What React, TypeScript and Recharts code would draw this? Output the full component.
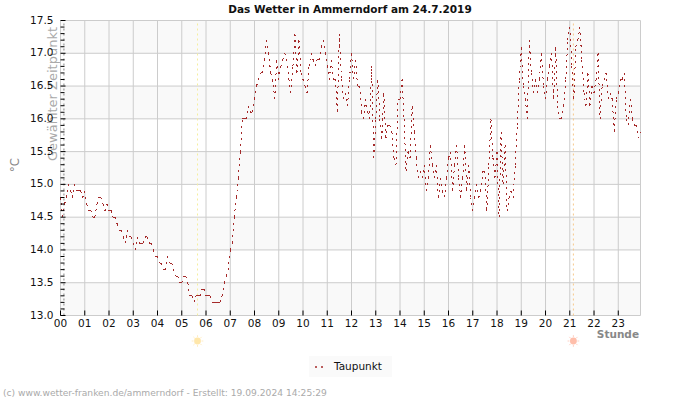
import React from "react";
import {
  CartesianGrid,
  Line,
  LineChart,
  ReferenceLine,
  XAxis,
  YAxis,
} from "recharts";

// Dew point in °C, one reading every five minutes, grouped by hour of the day.
const hour00 = [14.8, 14.5, 14.7, 14.8, 15.0, 14.9, 14.8, 15.0, 14.9, 14.9, 14.9, 14.8];
const hour01 = [14.9, 14.7, 14.6, 14.6, 14.5, 14.5, 14.7, 14.8, 14.8, 14.7, 14.6, 14.7];
const hour02 = [14.6, 14.6, 14.5, 14.5, 14.4, 14.3, 14.3, 14.2, 14.1, 14.3, 14.2, 14.2];
const hour03 = [14.1, 14.0, 14.2, 14.1, 14.1, 14.1, 14.2, 14.2, 14.1, 14.1, 14.0, 13.9];
const hour04 = [13.9, 13.8, 13.8, 13.7, 13.7, 13.9, 13.8, 13.8, 13.7, 13.6, 13.6, 13.5];
const hour05 = [13.5, 13.6, 13.6, 13.5, 13.3, 13.3, 13.2, 13.3, 13.3, 13.3, 13.4, 13.4];
const hour06 = [13.3, 13.3, 13.3, 13.2, 13.2, 13.2, 13.2, 13.2, 13.3, 13.5, 13.6, 13.7];
const hour07 = [14.0, 14.1, 14.5, 14.8, 15.1, 15.5, 16.0, 16.0, 16.0, 16.2, 16.1, 16.1];
const hour08 = [16.3, 16.5, 16.6, 16.7, 16.7, 16.9, 17.2, 17.0, 16.7, 16.6, 16.3, 16.9];
const hour09 = [16.6, 16.8, 16.9, 17.0, 16.9, 16.6, 16.4, 16.8, 17.3, 16.7, 17.2, 16.7];
const hour10 = [16.6, 16.5, 16.4, 16.8, 17.0, 16.9, 16.8, 16.9, 16.9, 17.1, 17.2, 17.0];
const hour11 = [16.8, 16.6, 16.9, 16.6, 16.6, 16.1, 17.3, 16.6, 16.3, 16.4, 16.2, 16.6];
const hour12 = [17.0, 16.6, 16.9, 16.5, 16.5, 16.1, 16.0, 16.3, 16.1, 16.0, 16.8, 15.4];
const hour13 = [16.0, 16.6, 16.0, 15.7, 16.4, 15.7, 15.9, 15.9, 15.8, 15.4, 15.3, 16.3];
const hour14 = [16.3, 16.6, 16.0, 15.2, 15.5, 15.4, 16.2, 15.8, 15.4, 15.1, 15.2, 15.1];
const hour15 = [15.3, 14.9, 15.1, 15.6, 15.3, 15.1, 15.3, 14.8, 15.1, 14.9, 14.8, 15.1];
const hour16 = [15.4, 15.5, 14.9, 15.3, 15.6, 15.1, 14.8, 15.1, 15.6, 14.9, 15.3, 14.8];
const hour17 = [14.6, 14.8, 15.0, 14.8, 14.9, 15.2, 15.2, 14.6, 15.3, 16.0, 15.4, 15.1];
const hour18 = [15.5, 14.5, 15.8, 15.0, 15.6, 14.6, 14.8, 14.9, 14.8, 15.3, 15.9, 16.6];
const hour19 = [17.1, 16.5, 16.3, 16.0, 17.2, 16.7, 16.4, 16.6, 16.4, 16.6, 17.0, 16.5];
const hour20 = [16.3, 16.6, 16.8, 17.0, 16.3, 17.1, 16.2, 16.0, 16.0, 16.2, 16.6, 17.2];
const hour21 = [17.4, 16.8, 16.3, 17.1, 17.2, 17.4, 16.9, 16.4, 16.2, 16.7, 16.2, 16.5];
const hour22 = [16.4, 16.6, 17.0, 16.0, 16.5, 16.6, 16.7, 16.3, 16.4, 16.3, 15.8, 16.3];
const hour23 = [16.4, 16.6, 16.6, 16.7, 16.0, 15.9, 16.3, 16.0, 15.9, 15.9, 15.7, 15.8];

const hours = [
  hour00, hour01, hour02, hour03, hour04, hour05, hour06, hour07,
  hour08, hour09, hour10, hour11, hour12, hour13, hour14, hour15,
  hour16, hour17, hour18, hour19, hour20, hour21, hour22, hour23,
];

const hourLabels = [
  "00", "01", "02", "03", "04", "05", "06", "07", "08", "09", "10", "11",
  "12", "13", "14", "15", "16", "17", "18", "19", "20", "21", "22", "23",
];

const majorTicks = [13, 13.5, 14, 14.5, 15, 15.5, 16, 16.5, 17, 17.5];
const allTicks = [
  13, 13.1, 13.2, 13.3, 13.4, 13.5, 13.6, 13.7, 13.8, 13.9,
  14, 14.1, 14.2, 14.3, 14.4, 14.5, 14.6, 14.7, 14.8, 14.9,
  15, 15.1, 15.2, 15.3, 15.4, 15.5, 15.6, 15.7, 15.8, 15.9,
  16, 16.1, 16.2, 16.3, 16.4, 16.5, 16.6, 16.7, 16.8, 16.9,
  17, 17.1, 17.2, 17.3, 17.4, 17.5,
];

const SLOTS_PER_HOUR = 12;
const LAST_SLOT = 287;
const SUNRISE_SLOT = 67.8;
const SUNSET_SLOT = 253.8;
const SELECTED_SLOT = 1.7;

const hourSlots = hourLabels.map((_, i) => i * SLOTS_PER_HOUR);
const data = hours.flat().map((dewPoint, slot) => ({ slot, dewPoint }));

const FONT = "'DejaVu Sans', sans-serif";
const LINE_COLOR = "#a52a2a";

function YTick({ x, y, payload }: any) {
  const major = Math.round(payload.value * 10) % 5 === 0;
  return (
    <g>
      <line x1={x} x2={x + (major ? 5 : 4)} y1={y} y2={y} stroke="#000" strokeWidth={1} />
      {major && (
        <text x={x - 7} y={y + 3} textAnchor="end" fontFamily={FONT} fontSize={10.5} fill="#111">
          {payload.value.toFixed(1)}
        </text>
      )}
    </g>
  );
}

function XTick({ x, y, payload }: any) {
  return (
    <g>
      <line x1={x} x2={x} y1={y} y2={y - 5} stroke="#000" strokeWidth={1} />
      <text x={x} y={y + 11} textAnchor="middle" fontFamily={FONT} fontSize={10.5} fill="#111">
        {hourLabels[payload.value / SLOTS_PER_HOUR]}
      </text>
    </g>
  );
}

// Each segment restarts its own dash pattern, so short flat runs read as solid.
function Segment({ index, cx, cy, points }: any) {
  if (!index || !points) return <g key={`seg-${index}`} />;
  const prev = points[index - 1];
  return (
    <line
      key={`seg-${index}`}
      x1={prev.x}
      y1={prev.y}
      x2={cx}
      y2={cy}
      stroke={LINE_COLOR}
      strokeWidth={1}
      strokeDasharray="2 4"
      shapeRendering="crispEdges"
    />
  );
}

function Sun({ viewBox, color }: any) {
  const cx = viewBox.x;
  const cy = 341;
  const angles = [0, 45, 90, 135, 180, 225, 270, 315];
  return (
    <g opacity={0.85}>
      {angles.map((a) => {
        const r = (a * Math.PI) / 180;
        return (
          <line
            key={a}
            x1={cx + 4 * Math.cos(r)}
            y1={cy + 4 * Math.sin(r)}
            x2={cx + 5.8 * Math.cos(r)}
            y2={cy + 5.8 * Math.sin(r)}
            stroke={color}
            strokeOpacity={0.7}
            strokeWidth={1}
          />
        );
      })}
      <circle cx={cx} cy={cy} r={3.4} fill={color} />
    </g>
  );
}

export default function App() {
  return (
    <div style={{ position: "absolute", left: 0, top: 0, width: 700, height: 400 }}>
      <LineChart
        width={700}
        height={400}
        data={data}
        margin={{ top: 20.5, right: 59.5, bottom: 64.5, left: 0.5 }}
      >
        <CartesianGrid
          stroke="#cccccc"
          strokeWidth={1}
          horizontalValues={majorTicks}
          verticalValues={[...hourSlots, LAST_SLOT]}
          horizontalFill={["#ffffff", "#f9f9f9"]}
        />
        <XAxis
          dataKey="slot"
          type="number"
          domain={[0, LAST_SLOT]}
          ticks={hourSlots}
          interval={0}
          height={20}
          tickSize={0}
          tickMargin={0}
          axisLine={false}
          tickLine={false}
          tick={<XTick />}
        />
        <YAxis
          type="number"
          domain={[13, 17.5]}
          ticks={allTicks}
          interval={0}
          width={60}
          tickSize={0}
          tickMargin={0}
          axisLine={false}
          tickLine={false}
          tick={<YTick />}
        />
        <ReferenceLine x={SELECTED_SLOT} stroke="#888888" strokeDasharray="2 3" />
        <ReferenceLine
          x={SUNRISE_SLOT}
          stroke="#f5ee9e"
          strokeDasharray="2 3"
          label={(props: any) => <Sun {...props} color="#ffe39c" />}
        />
        <ReferenceLine
          x={SUNSET_SLOT}
          stroke="#f6c98c"
          strokeDasharray="2 3"
          label={(props: any) => <Sun {...props} color="#ffb39c" />}
        />
        <Line
          dataKey="dewPoint"
          stroke="none"
          isAnimationActive={false}
          dot={(props: any) => <Segment key={props.index} {...props} />}
          activeDot={false}
        />

        <text x={350} y={12.5} textAnchor="middle" fontFamily={FONT} fontSize={10.5} fontWeight="bold" fill="#111">
          Das Wetter in Ammerndorf am 24.7.2019
        </text>
        <text
          transform="translate(19,165) rotate(-90)"
          textAnchor="middle"
          fontFamily={FONT}
          fontSize={11.5}
          fill="#888"
        >
          °C
        </text>
        <text
          transform="translate(57,94) rotate(-90)"
          textAnchor="middle"
          fontFamily={FONT}
          fontSize={13}
          fill="#aaa"
        >
          Gewählter Zeitpunkt
        </text>
        <text x={639} y={338} textAnchor="end" fontFamily={FONT} fontSize={10.5} fontWeight="bold" fill="#888">
          Stunde
        </text>

        <rect x={309} y={356} width={83} height={21} fill="#fafafa" />
        <line x1={315} x2={323} y1={367} y2={367} stroke={LINE_COLOR} strokeWidth={1.5} strokeDasharray="2 4" />
        <text x={334} y={370} fontFamily={FONT} fontSize={10.5} fill="#111">
          Taupunkt
        </text>

        <text x={3} y={396} fontFamily={FONT} fontSize={9.15} fill="#aaa">
          (c) www.wetter-franken.de/ammerndorf - Erstellt: 19.09.2024 14:25:29
        </text>
      </LineChart>
    </div>
  );
}
